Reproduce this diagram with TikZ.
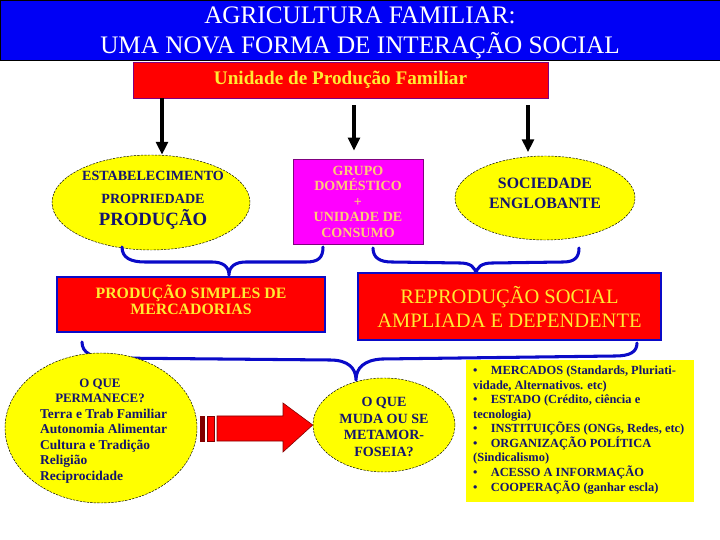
\documentclass[tikz,border=0pt]{standalone}
\usepackage{fontspec}
\setmainfont{Liberation Serif}
\usetikzlibrary{arrows.meta, positioning, calc, shapes.geometric}
\definecolor{titleblue}{RGB}{0, 0, 245}
\definecolor{boxred}{RGB}{255, 0, 0}
\definecolor{ovalyellow}{RGB}{255, 255, 0}
\definecolor{textnavy}{RGB}{20, 20, 110}
\definecolor{braceblue}{RGB}{10, 10, 200}
\definecolor{textyellow}{RGB}{255, 235, 50}
\definecolor{peach}{RGB}{255, 200, 120}
\definecolor{darkred}{RGB}{130, 0, 0}
\definecolor{groupmagenta}{RGB}{255, 0, 255}
\definecolor{grouppurple}{RGB}{128, 0, 128}
\newcommand\fsz[2]{\fontsize{#1}{#2}\selectfont}
\tikzset{
    titlebar/.style={rectangle, draw=black, line width=0.8pt, fill=titleblue, text=white, align=center, minimum width=21.6cm, minimum height=1.8cm, inner sep=0pt, font=\fsz{21.5}{25.5}},
    unitbox/.style={rectangle, draw=grouppurple, thin, fill=boxred, text=textyellow, minimum width=12.45cm, minimum height=1.08cm, inner sep=0pt, font=\fsz{16.4}{19}\bfseries},
    oval/.style={ellipse, draw=black, thin, dash pattern=on 2pt off 1pt, fill=ovalyellow, inner sep=0pt},
    ovaltext/.style={text=textnavy, align=center, inner sep=0pt, font=\bfseries},
    redbox/.style={rectangle, draw=braceblue, line width=2.5pt, fill=boxred, inner sep=0pt},
    boxtext/.style={text=textyellow, align=center, inner sep=0pt},
    brace/.style={draw=braceblue, line width=2.6pt, line cap=round, line join=round}
}
\begin{document}
\begin{tikzpicture}[
    x=0.03cm, y=-0.03cm,
    arrow/.style={-{Triangle[width=10pt, length=11pt]}, line width=2.6pt, black}
]
    \useasboundingbox[fill=white] (0,0) rectangle (720,540);

    % --- TITLE AND UNIT ---
    \node[titlebar] (title) at (360,30) {};
    \node[text=white, align=center, inner sep=0pt, font=\fsz{21.5}{25.5}] (titletext) at (360,33)
        {AGRICULTURA FAMILIAR:\\UMA NOVA FORMA DE INTERAÇÃO SOCIAL};
    \node[unitbox] (unit) at (340.5,80) {Unidade de Produção Familiar};

    % --- SECOND ROW ---
    \node[oval, minimum width=5.94cm, minimum height=2.85cm] (est) at (151,202.5) {};
    \node[ovaltext, font=\fsz{12}{19}\bfseries] (esttext) at (153,200.5)
        {ESTABELECIMENTO\\PROPRIEDADE\\{\fsz{16}{19}PRODUÇÃO}};
    \node[rectangle, draw=grouppurple, thin, fill=groupmagenta, text=peach, align=center,
        minimum width=3.9cm, minimum height=2.55cm, inner sep=0pt, font=\fsz{12}{13.2}\bfseries]
        (grupo) at (358,201.5) {GRUPO\\DOMÉSTICO\\+\\UNIDADE DE\\CONSUMO};
    \node[oval, minimum width=5.4cm, minimum height=2.52cm] (soc) at (545,198) {};
    \node[ovaltext, font=\fsz{13.5}{17}\bfseries] (soctext) at (545,193.5) {SOCIEDADE\\ENGLOBANTE};

    % Arrows from the unit
    \coordinate (a1) at (162,98);
    \coordinate (a2) at (354,98);
    \coordinate (a3) at (528,98);
    \draw[arrow] (unit.south -| a1) -- (est.north -| a1);
    \draw[arrow, shorten <=6pt, shorten >=7pt] (unit.south -| a2) -- (grupo.north -| a2);
    \draw[arrow, shorten <=6pt, shorten >=3pt] (unit.south -| a3) -- (soc.north -| a3);

    % Braces
    \draw[brace] (122,247) .. controls (122,258) and (131,262) .. (145,262) -- (212,262)
        .. controls (222,262) and (229,266) .. (229,275)
        .. controls (229,266) and (236,262) .. (246,262) -- (306,262)
        .. controls (318,262) and (323,258) .. (323,247);
    \draw[brace] (373,248) .. controls (373,258) and (380,262) .. (392,262) -- (460,263)
        .. controls (470,263) and (476,267) .. (476,275)
        .. controls (476,267) and (482,263) .. (492,263) -- (563,262)
        .. controls (574,262) and (579,258) .. (579,248);

    % --- THIRD ROW ---
    \node[redbox, minimum width=8.04cm, minimum height=1.65cm] (psm) at (191,304.5) {};
    \node[boxtext, font=\fsz{13.5}{14}\bfseries] (psmtext) at (191,300)
        {PRODUÇÃO SIMPLES DE\\MERCADORIAS};
    \node[redbox, minimum width=9.09cm, minimum height=2.01cm, boxtext, font=\fsz{17.5}{20.4}]
        (rsa) at (509.5,306.5) {REPRODUÇÃO SOCIAL\\AMPLIADA E DEPENDENTE};

    \draw[brace] (82,342) .. controls (82,353) and (92,358) .. (110,358) -- (330,360)
        .. controls (348,360) and (356,368) .. (356,380)
        .. controls (356,368) and (364,360) .. (382,359) -- (615,356)
        .. controls (630,356) and (637,352) .. (637,343);

    % --- BOTTOM ROW ---
    \node[oval, minimum width=5.76cm, minimum height=4.5cm] (perm) at (101,428) {};
    \node[ovaltext, font=\fsz{11}{12.5}\bfseries] (permhead) at (100,391) {O QUE\\PERMANECE?};
    \node[ovaltext, align=left, anchor=west, font=\fsz{11.5}{13.2}\bfseries] (permlist) at (40,446)
        {Terra e Trab Familiar\\Autonomia Alimentar\\Cultura e Tradição\\Religião\\Reciprocidade};

    \node[oval, minimum width=4.26cm, minimum height=2.82cm] (muda) at (384,425) {};
    \node[ovaltext, font=\fsz{12}{14.2}\bfseries] (mudatext) at (384,427)
        {O QUE\\MUDA OU SE\\METAMOR-\\FOSEIA?};

    % Block arrow between the two ovals
    \filldraw[fill=darkred, draw=darkred, line width=0.4pt] (200,416) rectangle (204,441);
    \filldraw[fill=boxred, draw=darkred, line width=0.6pt] (207,416) rectangle (214,441);
    \filldraw[fill=boxred, draw=darkred, line width=0.5pt] (217,416) -- (283,416) -- (283,403)
        -- (muda.west) -- (283,452) -- (283,441) -- (217,441) -- cycle;

    \node[rectangle, fill=ovalyellow, minimum width=6.84cm, minimum height=4.26cm] (ext) at (580,431) {};
    \node[text=textnavy, align=left, anchor=west, inner sep=0pt, font=\fsz{10.6}{12.4}\bfseries]
        (exttext) at (473,430)
        {\makebox[15pt][l]{\textbullet}MERCADOS (Standards, Pluriati-\\
         vidade, Alternativos. etc)\\
         \makebox[15pt][l]{\textbullet}ESTADO (Crédito, ciência e\\
         tecnologia)\\
         \makebox[15pt][l]{\textbullet}INSTITUIÇÕES (ONGs, Redes, etc)\\
         \makebox[15pt][l]{\textbullet}ORGANIZAÇÃO POLÍTICA\\
         (Sindicalismo)\\
         \makebox[15pt][l]{\textbullet}ACESSO A INFORMAÇÃO\\
         \makebox[15pt][l]{\textbullet}COOPERAÇÃO (ganhar escla)};
\end{tikzpicture}
\end{document}
